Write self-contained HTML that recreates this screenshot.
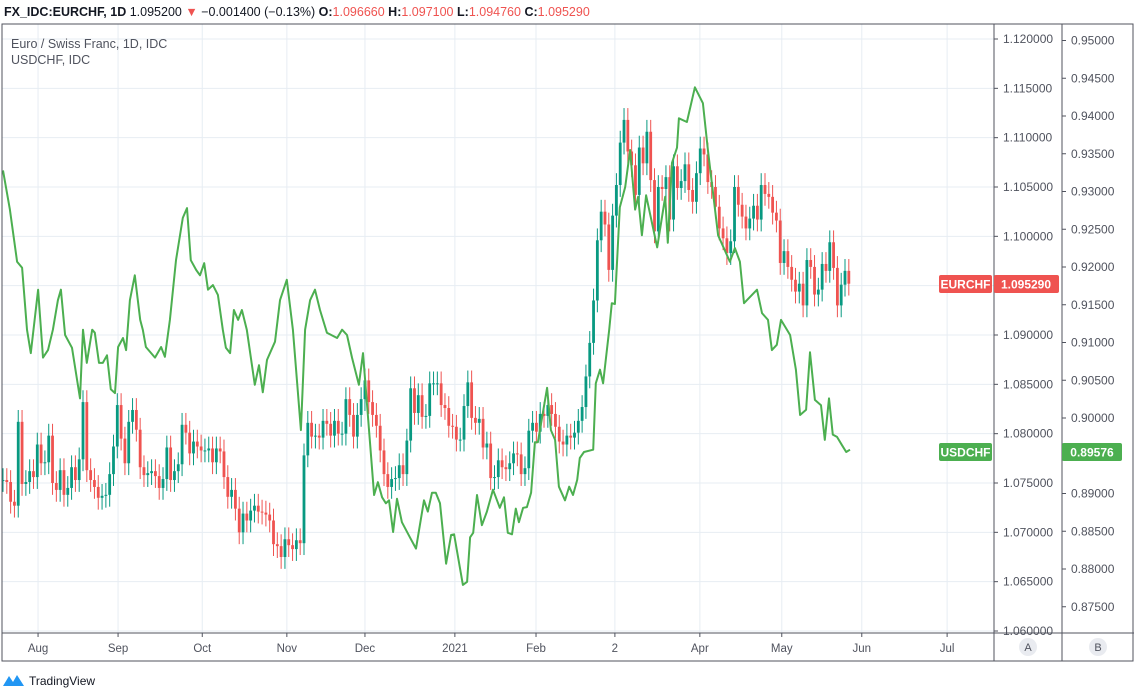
<!DOCTYPE html>
<html><head><meta charset="utf-8"><style>
html,body{margin:0;padding:0;background:#fff;}
svg{display:block;font-family:"Liberation Sans",sans-serif;}
</style></head><body>
<svg id="chart" width="1134" height="693" viewBox="0 0 1134 693">
<g id="grid"></g>
<g id="candles"></g>
<path id="usdline" fill="none" stroke="#4caf50" stroke-width="2" stroke-linejoin="round"/>
<rect x="2" y="24" width="1131" height="637" fill="none" stroke="#50535e" stroke-width="1"/>
<line x1="994" y1="24" x2="994" y2="661" stroke="#50535e"/>
<line x1="1062" y1="24" x2="1062" y2="661" stroke="#50535e"/>
<line x1="2" y1="633" x2="1134" y2="633" stroke="#50535e"/>
<g id="yaxisA"></g>
<g id="yaxisB"></g>
<g id="xaxis"></g>
<text x="4" y="16" font-size="12.5" fill="#131722"><tspan font-weight="bold">FX_IDC:EURCHF, 1D</tspan> 1.095200 <tspan fill="#ef5350">▼</tspan> −0.001400 (−0.13%) <tspan font-weight="bold">O:</tspan><tspan fill="#ef5350">1.096660</tspan> <tspan font-weight="bold">H:</tspan><tspan fill="#ef5350">1.097100</tspan> <tspan font-weight="bold">L:</tspan><tspan fill="#ef5350">1.094760</tspan> <tspan font-weight="bold">C:</tspan><tspan fill="#ef5350">1.095290</tspan></text>
<text x="11" y="48" font-size="12.5" fill="#50535e">Euro / Swiss Franc, 1D, IDC</text>
<text x="11" y="64" font-size="12.5" fill="#50535e">USDCHF, IDC</text>
<g>
<rect x="939" y="275" width="53" height="18" rx="2" fill="#ef5350"/><text x="965.5" y="288.5" font-size="12" fill="#fff" text-anchor="middle" font-weight="bold">EURCHF</text>
<rect x="994" y="275" width="65" height="18" rx="2" fill="#ef5350"/><text x="1026" y="288.5" font-size="12" fill="#fff" text-anchor="middle" font-weight="bold">1.095290</text></g>
<g>
<rect x="939" y="443" width="53" height="18" rx="2" fill="#4caf50"/><text x="965.5" y="456.5" font-size="12" fill="#fff" text-anchor="middle" font-weight="bold">USDCHF</text>
<rect x="1062" y="443" width="60" height="18" rx="2" fill="#4caf50"/><text x="1092" y="456.5" font-size="12" fill="#fff" text-anchor="middle" font-weight="bold">0.89576</text></g>
<g><circle cx="1028" cy="647" r="9" fill="#e9ebf0"/><text x="1028" y="651" font-size="11" fill="#50535e" text-anchor="middle">A</text></g>
<g><circle cx="1098" cy="647" r="9" fill="#e9ebf0"/><text x="1098" y="651" font-size="11" fill="#50535e" text-anchor="middle">B</text></g>
<g><path d="M3 686 L9 676 L13 682 L17 675 L24 686 Z" fill="#2196f3"/><text x="29" y="685" font-size="12" fill="#131722">TradingView</text></g>
</svg>
<script>
const eurCloses=[1.0753,1.0751,1.0731,1.0727,1.0812,1.0749,1.0751,1.0762,1.0756,1.0789,
1.0770,1.0771,1.0798,1.0750,1.0743,1.0763,1.0738,1.0745,1.0766,1.0753,
1.0774,1.0832,1.0763,1.0753,1.0746,1.0735,1.0737,1.0738,1.0759,1.0787,
1.0829,1.0795,1.0770,1.0812,1.0824,1.0804,1.0766,1.0758,1.0760,1.0762,
1.0757,1.0745,1.0754,1.0786,1.0753,1.0762,1.0769,1.0809,1.0801,1.0780,
1.0792,1.0787,1.0783,1.0783,1.0785,1.0771,1.0785,1.0782,1.0756,1.0736,
1.0743,1.0724,1.0700,1.0719,1.0712,1.0722,1.0727,1.0721,1.0720,1.0718,
1.0712,1.0688,1.0686,1.0675,1.0693,1.0687,1.0683,1.0692,1.0689,1.0778,
1.0811,1.0797,1.0798,1.0796,1.0813,1.0810,1.0798,1.0813,1.0800,1.0800,
1.0835,1.0819,1.0797,1.0819,1.0835,1.0854,1.0832,1.0819,1.0808,1.0783,
1.0759,1.0746,1.0754,1.0755,1.0768,1.0759,1.0793,1.0846,1.0821,1.0839,
1.0817,1.0818,1.0851,1.0851,1.0851,1.0829,1.0826,1.0808,1.0807,1.0794,
1.0794,1.0828,1.0852,1.0816,1.0811,1.0815,1.0786,1.0790,1.0755,1.0756,
1.0773,1.0766,1.0764,1.0770,1.0780,1.0779,1.0759,1.0765,1.0803,1.0811,
1.0802,1.0820,1.0818,1.0829,1.0820,1.0807,1.0792,1.0789,1.0798,1.0796,
1.0801,1.0813,1.0827,1.0858,1.0892,1.0935,1.0996,1.1025,1.1012,1.0966,
1.1021,1.1052,1.1095,1.1118,1.1086,1.1072,1.1042,1.1090,1.1074,1.1106,
1.1057,1.1005,1.1050,1.1048,1.1060,1.1017,1.1071,1.1049,1.1056,1.1073,
1.1047,1.1035,1.1064,1.1089,1.1083,1.1055,1.1050,1.1030,1.1008,1.0998,
1.0983,1.0995,1.1050,1.1032,1.1020,1.1008,1.1018,1.1031,1.1017,1.1052,
1.1043,1.1040,1.1024,1.1016,1.0973,1.0985,1.0969,1.0956,1.0944,1.0952,
1.0930,1.0976,1.0969,1.0941,1.0946,1.0972,1.0965,1.0994,1.0968,1.0930,
1.0951,1.0965,1.0952];
const usdDays=[0,1.8,3.7,5.0,6.3,7.3,9.2,10.5,11.8,13.1,14.4,15.2,16.3,18.1,20.2,21.0,22.0,23.4,24.1,25.2,26.2,27.3,28.3,29.4,30.2,31.5,32.3,33.3,34.6,36.0,36.7,37.5,39.9,41.5,42.5,43.8,45.4,47.2,48.3,49.3,50.7,51.7,52.8,53.8,55.1,56.4,57.7,58.5,59.6,60.6,61.7,62.7,64.0,66.1,67.2,68.2,69.3,71.4,72.7,74.5,76.1,78.2,79.3,80.6,81.9,83.2,85.0,87.7,89.0,90.3,91.6,93.4,94.5,95.5,97.4,98.4,99.5,100.5,101.3,102.4,103.4,104.7,106.8,108.4,110.5,111.5,112.6,113.6,114.7,116.3,117.6,118.4,120.7,121.8,122.6,123.4,124.4,125.7,127.0,128.6,130.4,131.5,132.5,133.6,134.6,135.4,136.5,137.5,138.6,139.6,140.4,142.8,143.8,144.9,145.9,147.5,148.6,149.6,150.7,151.4,152.5,154.9,155.6,156.7,157.5,159.1,159.8,160.6,161.9,163.3,164.6,165.9,166.7,167.7,168.8,171.7,173.8,174.5,175.6,176.9,177.4,179.5,181.6,183.7,185.0,187.7,190.8,192.1,193.4,194.5,197.9,199.2,200.8,201.8,203.1,204.2,206.6,208.1,209.2,210.8,211.8,213.1,214.7,215.7,216.8,217.8,218.9,220.2,221.3,222.3];
const usdValues=[0.9328,0.9276,0.9207,0.9199,0.9117,0.9086,0.9170,0.9080,0.9090,0.9117,0.9156,0.9170,0.9110,0.9093,0.9026,0.9117,0.9073,0.9117,0.9113,0.9073,0.9073,0.9083,0.9038,0.9033,0.9094,0.9106,0.9090,0.9156,0.9189,0.9130,0.9117,0.9094,0.9080,0.9094,0.9081,0.9130,0.9209,0.9265,0.9278,0.9209,0.9196,0.9189,0.9205,0.9170,0.9176,0.9163,0.9117,0.9093,0.9086,0.9143,0.9130,0.9143,0.9117,0.9044,0.9070,0.9034,0.9077,0.9101,0.9156,0.9183,0.9117,0.8984,0.9117,0.9156,0.9170,0.9143,0.9113,0.9106,0.9117,0.9110,0.9080,0.9044,0.9086,0.9020,0.8898,0.8915,0.8895,0.8887,0.8891,0.8849,0.8893,0.8862,0.8842,0.8827,0.8891,0.8876,0.8901,0.8901,0.8887,0.8807,0.8845,0.8846,0.8779,0.8783,0.8842,0.8848,0.8898,0.8858,0.8876,0.8905,0.8881,0.8895,0.8848,0.8846,0.8880,0.8862,0.8881,0.8882,0.8901,0.8968,0.8968,0.9040,0.8984,0.8971,0.8909,0.8891,0.8909,0.8898,0.8918,0.8947,0.8955,0.8958,0.9046,0.9064,0.9046,0.9117,0.9152,0.9151,0.9279,0.9306,0.9355,0.9276,0.9293,0.9242,0.9295,0.9226,0.9293,0.9232,0.9338,0.9358,0.9397,0.9392,0.9438,0.9417,0.9355,0.9242,0.9207,0.9225,0.9207,0.9152,0.9170,0.9139,0.9130,0.9090,0.9097,0.9130,0.9110,0.9064,0.9004,0.9011,0.9087,0.9024,0.9017,0.8971,0.9026,0.8978,0.8975,0.8964,0.8955,0.8958];
const leftTicks=[1.060,1.065,1.070,1.075,1.080,1.085,1.090,1.095,1.100,1.105,1.110,1.115,1.120];
const rightTicks=[0.875,0.880,0.885,0.890,0.895,0.900,0.905,0.910,0.915,0.920,0.925,0.930,0.935,0.940,0.945,0.950];
const monthLabels=["Aug","Sep","Oct","Nov","Dec","2021","Feb","2","Apr","May","Jun","Jul"];
const monthDays=[9.2,30.2,52.3,74.5,95,118.6,139.9,160.6,182.9,204.4,225.4,247.8];

const NS="http://www.w3.org/2000/svg";
const X0=3,STEP=3.81;
const xOf=d=>X0+d*STEP;
const yA=v=>39+(1.12-v)/0.06*592;
const yB=v=>267+(0.92-v)/0.02*151;
function mk(tag,attrs,parent){const e=document.createElementNS(NS,tag);for(const k in attrs)e.setAttribute(k,attrs[k]);parent.appendChild(e);return e;}
const grid=document.getElementById('grid');
leftTicks.forEach(v=>{const y=yA(v);
 const l=mk('line',{x1:2,x2:994,y1:y,y2:y,stroke:'#e7edf3'},grid);
 
 });
monthDays.forEach(d=>{const x=xOf(d);
 const l=mk('line',{x1:x,x2:x,y1:24,y2:633,stroke:'#e7edf3'},grid);
 
 });
const ya=document.getElementById('yaxisA');
leftTicks.forEach(v=>{const y=yA(v);
 mk('line',{x1:994,x2:998,y1:y,y2:y,stroke:'#50535e'},ya);
 const t=mk('text',{x:1003,y:y+4,'font-size':12,fill:'#50535e'},ya);t.textContent=v.toFixed(6);
 
 });
const yb=document.getElementById('yaxisB');
rightTicks.forEach(v=>{const y=yB(v);
 mk('line',{x1:1062,x2:1066,y1:y,y2:y,stroke:'#50535e'},yb);
 const t=mk('text',{x:1071,y:y+4,'font-size':12,fill:'#50535e'},yb);t.textContent=v.toFixed(5);
 
 });
const xa=document.getElementById('xaxis');
monthLabels.forEach((m,i)=>{const x=xOf(monthDays[i]);
 mk('line',{x1:x,x2:x,y1:633,y2:637,stroke:'#50535e'},xa);
 const t=mk('text',{x:x,y:652,'font-size':11.5,fill:'#50535e','text-anchor':'middle'},xa);t.textContent=m;
 
 });
const cg=document.getElementById('candles');
const WICK=0.0012;
eurCloses.forEach((c,i)=>{
 const o=i===0?c:eurCloses[i-1];
 const up=c>=o;const col=up?'#089981':'#ef5350';
 const x=xOf(i);
 const hi=Math.max(o,c)+WICK,lo=Math.min(o,c)-WICK;
 const g=mk('g',{},cg);
 
 
 mk('line',{x1:x,x2:x,y1:yA(hi),y2:yA(lo),stroke:col,'stroke-width':1},g);
 const t=yA(Math.max(o,c)),b=yA(Math.min(o,c));
 mk('rect',{x:x-1.4,y:t,width:2.8,height:Math.max(1,b-t),fill:col},g);
});
let d='';
usdDays.forEach((dd,i)=>{d+=(i?'L':'M')+xOf(dd).toFixed(1)+' '+yB(usdValues[i]).toFixed(1);});
document.getElementById('usdline').setAttribute('d',d);
</script>
</body></html>
